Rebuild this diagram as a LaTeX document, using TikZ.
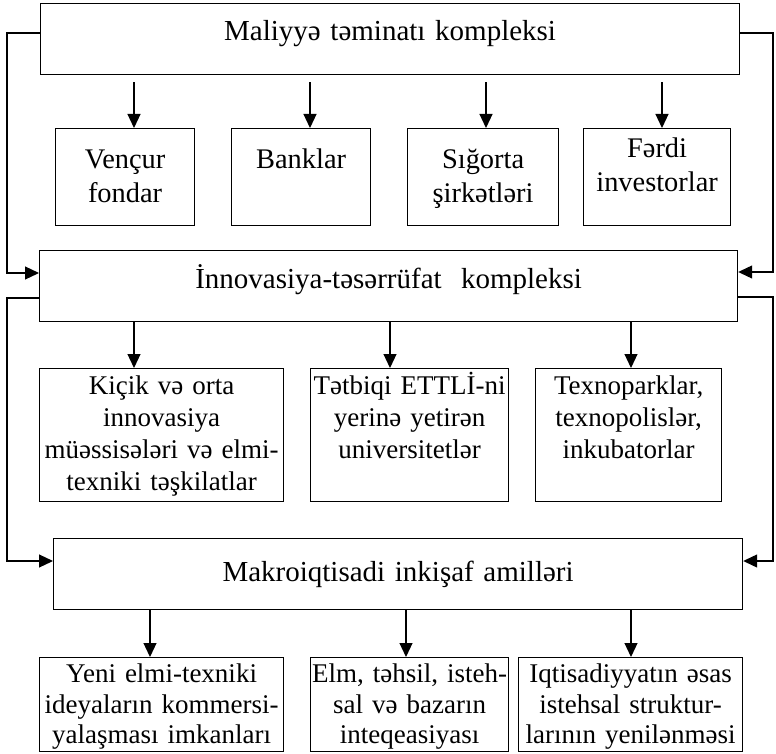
\documentclass[tikz,border=0pt]{standalone}
\usepackage{fontspec}
\setmainfont{Liberation Serif}
\usetikzlibrary{arrows.meta}
\tikzset{
  box/.style={draw, line width=1.2pt, inner sep=0pt, anchor=north west, align=center},
  bigbox/.style={box, font=\fontsize{29}{34}\selectfont},
  boxone/.style={box, font=\fontsize{28.4}{34}\selectfont},
  boxtwo/.style={box, font=\fontsize{27}{32}\selectfont},
  boxthree/.style={box, font=\fontsize{27}{30.5}\selectfont},
  arr/.style={-{Triangle[length=14pt,width=13pt]}, line width=1.2pt}
}
\begin{document}
\begin{tikzpicture}[x=1pt,y=-1pt]
      \useasboundingbox (0,0) rectangle (776,754);
      % main complexes
      \node[bigbox, text width=699pt, text height=37pt, text depth=34pt](Mal) at (40,3) {Maliyyə təminatı kompleksi};
      \node[bigbox, text width=698pt, text height=38pt, text depth=33pt](Inn) at (39,250) {İnnovasiya-təsərrüfat~ kompleksi};
      \node[bigbox, text width=689pt, text height=43pt, text depth=28pt](Mak) at (53,538) {Makroiqtisadi inkişaf amilləri};
      % first row
      \foreach \n/\x/\w/\h/\t in{A/55/139/40/{Vençur\\fondar}, B/231/139/40/{Banklar}, C/407/151/40/{Sığorta\\şirkətləri}, D/583/147/29/{Fərdi\\investorlar}}{
        \node[boxone, text width=\w pt, text height=\h pt, text depth={(97-\h)*1pt}](R1\n) at (\x,128) {\t};
      }
      % second row
      \foreach \n/\x/\w/\t in{A/39/244/{Kiçik və orta\\innovasiya\\müəssisələri və elmi-\\texniki təşkilatlar}, B/310/198/{Tətbiqi ETTLİ-ni\\yerinə yetirən\\universitetlər}, C/535/186/{Texnoparklar,\\texnopolislər,\\inkubatorlar}}{
        \node[boxtwo, text width=\w pt, text height=26pt, text depth=107pt](R2\n) at (\x,368) {\t};
      }
      % third row
      \foreach \n/\x/\w/\t in{A/39/244/{Yeni elmi-texniki\\ideyaların kommersi-\\yalaşması imkanları}, B/310/198/{Elm, təhsil, isteh-\\sal və bazarın\\inteqeasiyası}, C/518/224/{Iqtisadiyyatın əsas\\istehsal struktur-\\larının yenilənməsi}}{
        \node[boxthree, text width=\w pt, text height=25pt, text depth=69pt](R3\n) at (\x,657) {\t};
      }
      % downward arrows
      \foreach \x/\n in{134/A, 310/B, 486/C, 662/D}{
        \draw[arr, shorten <=7pt](Mal.south -| \x,0) -- (R1\n.north -| \x,0);
      }
      \foreach \x/\n in{134/A, 390/B, 631/C}{
        \draw[arr](Inn.south -| \x,0) -- (R2\n.north -| \x,0);
      }
      \foreach \x/\n in{150/A, 406/B, 631/C}{
        \draw[arr](Mak.south -| \x,0) -- (R3\n.north -| \x,0);
      }
      % side links
      \draw[arr](Mal.west |- 0,33) -- (7,33) |- (Inn.west |- 0,273);
      \draw[arr](Mal.east |- 0,33) -- (773,33) |- (Inn.east |- 0,272);
      \draw[arr](Inn.west |- 0,298) -- (7,298) |- (Mak.west |- 0,561);
      \draw[arr](Inn.east |- 0,297) -- (773,297) |- (Mak.east |- 0,561);
    \end{tikzpicture}
\end{document}
